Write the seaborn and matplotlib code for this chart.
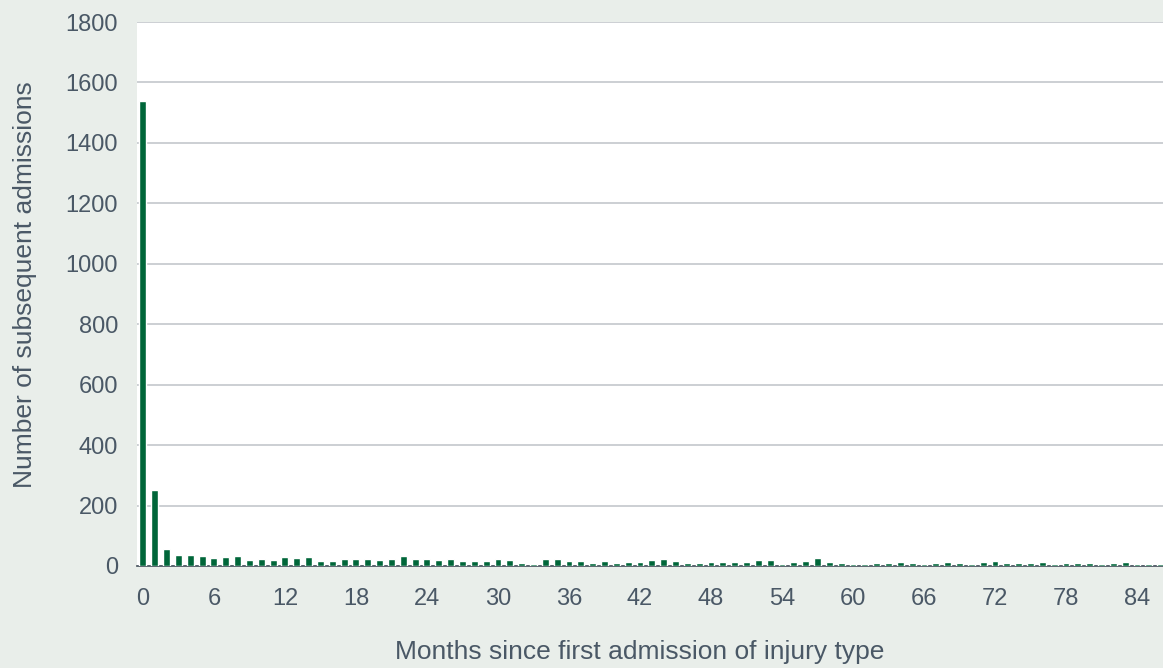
import numpy as np
import pandas as pd
import matplotlib
matplotlib.use("Agg")
import matplotlib.pyplot as plt
import seaborn as sns

# months since first admission, 0..86
months = list(range(87))
admissions = [
    1540, 250, 55, 37, 37, 34, 28, 30, 33, 21,
    23, 21, 30, 26, 29, 18, 17, 24, 24, 22,
    21, 24, 32, 22, 23, 21, 22, 18, 16, 15,
    22, 20, 11, 8, 22, 22, 17, 15, 9, 18,
    10, 13, 14, 19, 22, 17, 10, 9, 12, 12,
    13, 13, 21, 19, 7, 12, 15, 25, 13, 9,
    7, 7, 9, 9, 13, 9, 7, 10, 13, 11,
    6, 13, 15, 11, 11, 11, 13, 7, 9, 9,
    11, 7, 11, 13, 7, 5, 7,
]
tick_months = list(range(0, 85, 6))

df = pd.DataFrame({"month": months, "count": admissions})

sns.set_style("white")
plt.rcParams['font.family'] = ['Liberation Sans', 'DejaVu Sans']

bg = "#e9eeea"
text_col = "#4a5866"
fig = plt.figure(figsize=(11.63, 6.68), dpi=100, facecolor=bg)
ax = fig.add_axes([0.1178, 0.1527, 1 - 0.1178, 0.967 - 0.1527])
ax.set_facecolor("white")

sns.barplot(data=df, x="month", y="count", color="#006639", saturation=1,
            width=0.58, ax=ax, order=months, zorder=3)

ax.set_ylim(0, 1800)
ax.set_yticks(range(0, 1801, 200))
ax.set_xlim(-0.5, 86.2)
ax.set_xticks(tick_months)
ax.set_xticklabels([str(m) for m in tick_months])
ax.yaxis.grid(True, color="#c3c7cc", linewidth=1.2)
ax.set_axisbelow(True)
for s in ["left", "right", "top"]:
    ax.spines[s].set_visible(False)
ax.spines["bottom"].set_color("#4a5560")
ax.spines["bottom"].set_linewidth(1.25)
ax.spines["bottom"].set_zorder(2)
ax.tick_params(axis="both", length=0, labelsize=17, colors=text_col)
ax.tick_params(axis="x", pad=15.8)
ax.tick_params(axis="y", pad=13.7)

ax.set_xlabel("Months since first admission of injury type", fontsize=19,
              color=text_col)
ax.set_ylabel("Number of subsequent admissions", fontsize=19,
              color=text_col)
ax.xaxis.set_label_coords(0.490, -0.136)
ax.yaxis.set_label_coords(-0.0975, 0.5165)

fig.savefig("out.png", dpi=100, facecolor=bg)
